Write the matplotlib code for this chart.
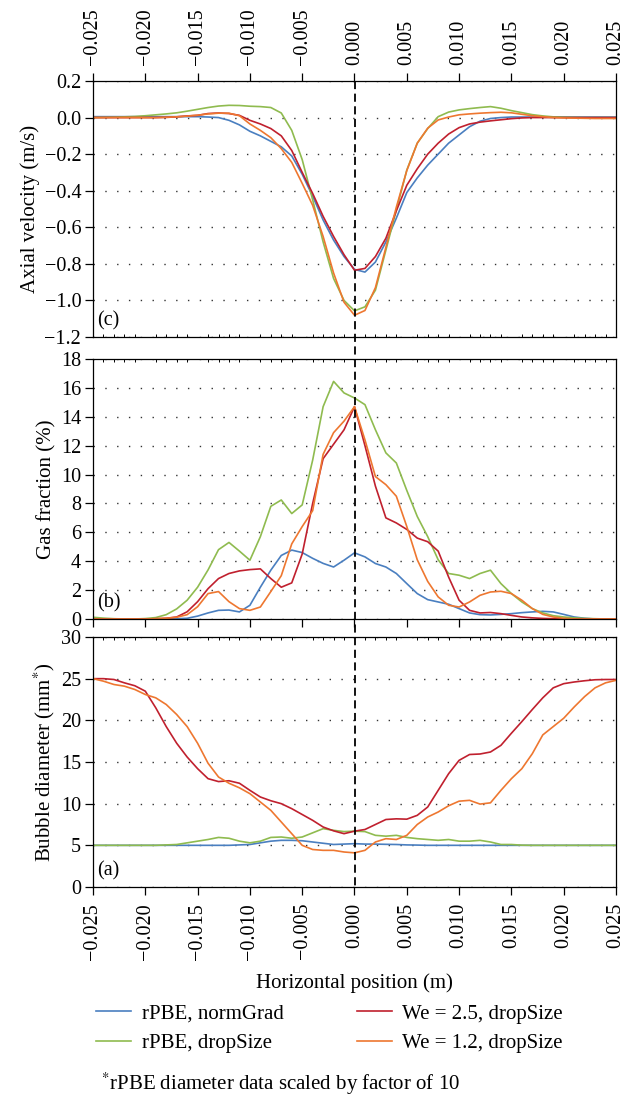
import numpy as np
import matplotlib
matplotlib.use("Agg")
import matplotlib.pyplot as plt
from matplotlib.ticker import MultipleLocator, FuncFormatter
from matplotlib.lines import Line2D

plt.rcParams['font.family'] = ['Liberation Serif', 'DejaVu Serif']
plt.rcParams['mathtext.fontset'] = 'stix'

# horizontal position (m), one value every 1 mm
x = np.round(np.arange(-25, 26) * 0.001, 3)

labels = ["rPBE, normGrad", "rPBE, dropSize", "We = 2.5, dropSize", "We = 1.2, dropSize"]
colors = ["#4a7fc0", "#8fbb4f", "#c0202e", "#ee7730"]

# (c) axial velocity (m/s)
blue_c = [0.005, 0.005, 0.005, 0.005, 0.005, 0.005, 0.005, 0.005, 0.005, 0.005,
          0.005, 0.003, 0.0, -0.015, -0.04, -0.075, -0.10, -0.13, -0.16, -0.21,
          -0.31, -0.43, -0.56, -0.67, -0.76, -0.83, -0.845, -0.79, -0.68, -0.55,
          -0.41, -0.33, -0.26, -0.20, -0.14, -0.095, -0.05, -0.02, -0.005, 0.0,
          0.003, 0.003, 0.003, 0.003, 0.003, 0.003, 0.003, 0.003, 0.003, 0.003, 0.003]
green_c = [0.0, 0.001, 0.002, 0.004, 0.006, 0.01, 0.015, 0.02, 0.026, 0.035,
           0.045, 0.055, 0.063, 0.067, 0.066, 0.062, 0.06, 0.055, 0.025, -0.07,
           -0.23, -0.45, -0.68, -0.88, -1.00, -1.057, -1.035, -0.944, -0.725, -0.506,
           -0.287, -0.14, -0.06, 0.005, 0.03, 0.042, 0.049, 0.055, 0.06, 0.051,
           0.038, 0.027, 0.016, 0.009, 0.004, 0.002, 0.001, 0.0, 0.0, 0.0, 0.0]
red_c = [0.0, 0.0, 0.0, 0.0, 0.0, 0.0, 0.0, 0.001, 0.004, 0.009,
         0.012, 0.022, 0.025, 0.022, 0.012, -0.015, -0.035, -0.06, -0.10, -0.18,
         -0.30, -0.415, -0.54, -0.65, -0.75, -0.835, -0.825, -0.76, -0.66, -0.51,
         -0.37, -0.28, -0.20, -0.14, -0.09, -0.055, -0.035, -0.025, -0.018, -0.012,
         -0.006, -0.002, 0.0, 0.0, 0.0, 0.0, 0.0, 0.0, 0.0, 0.0, 0.0]
orange_c = [0.0, 0.0, 0.0, 0.0, 0.0, 0.0, 0.0, 0.002, 0.004, 0.008,
            0.013, 0.02, 0.024, 0.024, 0.01, -0.035, -0.07, -0.11, -0.17, -0.245,
            -0.36, -0.48, -0.65, -0.85, -1.01, -1.081, -1.055, -0.93, -0.71, -0.49,
            -0.29, -0.14, -0.058, -0.013, 0.003, 0.015, 0.02, 0.024, 0.027, 0.029,
            0.026, 0.018, 0.01, 0.005, 0.0, -0.002, -0.003, -0.004, -0.005, -0.005, -0.005]

# (b) gas fraction (%)
blue_b = [0.0, 0.0, 0.0, 0.0, 0.0, 0.0, 0.0, 0.0, 0.02, 0.05,
          0.2, 0.42, 0.6, 0.62, 0.49, 0.95, 2.2, 3.38, 4.4, 4.77,
          4.6, 4.2, 3.85, 3.6, 4.07, 4.58, 4.3, 3.84, 3.6, 3.15,
          2.45, 1.76, 1.34, 1.18, 1.02, 0.72, 0.42, 0.3, 0.28, 0.32,
          0.37, 0.44, 0.49, 0.53, 0.49, 0.32, 0.14, 0.05, 0.0, 0.0, 0.0]
green_b = [0.12, 0.06, 0.02, 0.0, 0.0, 0.03, 0.1, 0.3, 0.7, 1.3,
           2.2, 3.4, 4.8, 5.3, 4.7, 4.07, 5.7, 7.8, 8.24, 7.3,
           7.9, 11.0, 14.7, 16.45, 15.65, 15.3, 14.84, 13.1, 11.5, 10.8,
           8.9, 7.1, 5.7, 4.1, 3.15, 3.03, 2.8, 3.15, 3.38, 2.45,
           1.76, 1.18, 0.72, 0.42, 0.23, 0.14, 0.08, 0.04, 0.02, 0.0, 0.0]
red_b = [0.0, 0.0, 0.0, 0.0, 0.0, 0.0, 0.02, 0.05, 0.14, 0.5,
         1.2, 2.1, 2.8, 3.15, 3.33, 3.42, 3.47, 2.8, 2.2, 2.5,
         4.5, 8.0, 11.1, 12.1, 13.1, 14.7, 12.0, 9.2, 7.0, 6.65,
         6.2, 5.6, 5.35, 4.7, 2.9, 1.3, 0.6, 0.42, 0.45, 0.37,
         0.25, 0.14, 0.08, 0.04, 0.02, 0.0, 0.0, 0.0, 0.0, 0.0, 0.0]
orange_b = [0.0, 0.0, 0.0, 0.0, 0.0, 0.0, 0.02, 0.05, 0.12, 0.3,
            0.85, 1.76, 1.9, 1.2, 0.72, 0.6, 0.83, 1.9, 3.0, 5.2,
            6.4, 7.5, 11.4, 12.9, 13.7, 14.7, 12.4, 9.86, 9.3, 8.5,
            6.4, 4.1, 2.6, 1.53, 0.95, 0.83, 1.18, 1.64, 1.87, 1.92,
            1.76, 1.3, 0.72, 0.32, 0.14, 0.05, 0.0, 0.0, 0.0, 0.0, 0.0]

# (a) bubble diameter (mm, rPBE x10)
blue_a = [5.0, 5.0, 5.0, 5.0, 5.0, 5.0, 5.0, 5.0, 5.0, 5.0,
          5.0, 5.0, 5.0, 5.0, 5.05, 5.1, 5.3, 5.5, 5.6, 5.6,
          5.55, 5.4, 5.25, 5.1, 5.15, 5.2, 5.15, 5.15, 5.12, 5.1,
          5.05, 5.03, 5.0, 5.0, 5.0, 5.0, 5.0, 5.0, 5.0, 5.0,
          5.0, 5.0, 5.0, 5.0, 5.0, 5.0, 5.0, 5.0, 5.0, 5.0, 5.0]
green_a = [5.0, 5.0, 5.0, 5.0, 5.0, 5.0, 5.0, 5.05, 5.1, 5.3,
           5.5, 5.7, 5.95, 5.85, 5.5, 5.3, 5.5, 5.95, 6.0, 5.85,
           6.0, 6.5, 7.0, 6.8, 6.65, 6.7, 6.65, 6.2, 6.1, 6.2,
           5.95, 5.8, 5.7, 5.6, 5.7, 5.5, 5.5, 5.6, 5.4, 5.1,
           5.1, 5.02, 5.0, 5.0, 5.0, 5.0, 5.0, 5.0, 5.0, 5.0, 5.0]
red_a = [25.0, 25.0, 24.9, 24.5, 24.15, 23.5, 21.5, 19.25, 17.25, 15.6,
         14.2, 13.0, 12.65, 12.75, 12.45, 11.6, 10.8, 10.35, 10.0, 9.4,
         8.7, 8.0, 7.2, 6.74, 6.4, 6.7, 6.9, 7.5, 8.1, 8.18,
         8.14, 8.6, 9.6, 11.6, 13.6, 15.2, 15.9, 15.96, 16.2, 17.0,
         18.45, 19.85, 21.3, 22.7, 23.9, 24.4, 24.6, 24.75, 24.87, 24.9, 24.9]
orange_a = [25.0, 24.7, 24.3, 24.1, 23.7, 23.1, 22.7, 21.9, 20.7, 19.25,
            17.25, 14.85, 13.2, 12.45, 11.9, 11.2, 10.2, 9.2, 7.8, 6.4,
            5.0, 4.5, 4.4, 4.4, 4.2, 4.1, 4.4, 5.4, 5.8, 5.7,
            6.2, 7.5, 8.4, 9.0, 9.75, 10.3, 10.4, 9.95, 10.1, 11.6,
            13.0, 14.2, 16.0, 18.25, 19.25, 20.25, 21.6, 22.85, 23.9, 24.5, 24.8]

W, H = 623, 1098
fig = plt.figure(figsize=(W / 100, H / 100), dpi=100)


def box(top, bottom):
    return [93 / W, 1 - bottom / H, 523 / W, (bottom - top) / H]


def fmt_func(nd):
    def f(v, pos):
        s = "%.*f" % (nd, v)
        if float(s) == 0:
            s = s.lstrip("-")
        return s.replace("-", "\u2212")
    return FuncFormatter(f)


ax_c = fig.add_axes(box(81, 337))
ax_b = fig.add_axes(box(359, 619))
ax_a = fig.add_axes(box(637, 887))

panels = [
    (ax_c, [blue_c, green_c, red_c, orange_c], (-1.2, 0.2), 0.2, 1, "Axial velocity (m/s)", "(c)"),
    (ax_b, [blue_b, green_b, red_b, orange_b], (0, 18), 2, 0, "Gas fraction (%)", "(b)"),
    (ax_a, [blue_a, green_a, red_a, orange_a], (0, 30), 5, 0, "Bubble diameter (mm$^{*}$)", "(a)"),
]

for ax, series, ylim, ystep, nd, ylabel, tag in panels:
    for vals, c, lab in zip(series, colors, labels):
        ax.plot(x, vals, color=c, lw=1.2, label=lab)
    ax.set_xlim(-0.025, 0.025)
    ax.set_ylim(*ylim)
    ax.xaxis.set_major_locator(MultipleLocator(0.005))
    ax.xaxis.set_minor_locator(MultipleLocator(0.001))
    ax.xaxis.set_major_formatter(fmt_func(3))
    ax.yaxis.set_major_locator(MultipleLocator(ystep))
    ax.yaxis.set_major_formatter(fmt_func(nd))
    ax.grid(axis='y', color='#333333', lw=1.0, linestyle=(0, (1, 7.5)))
    ax.tick_params(axis='y', which='major', direction='out', length=5.5, width=0.9,
                   labelsize=14.5, right=False, pad=3)
    ax.set_ylabel(ylabel, fontsize=15, labelpad=3)
    ax.text(0.008, 0.025, tag, transform=ax.transAxes, fontsize=14.5, va='bottom', ha='left')
    for s in ax.spines.values():
        s.set_linewidth(0.9)

# top panel: labelled ticks on top, small inner ticks at the bottom
ax_c.tick_params(axis='x', which='major', top=True, bottom=False, labeltop=True,
                 labelbottom=False, direction='out', length=5.5, width=0.9,
                 labelsize=14.5, labelrotation=90, pad=6)
ax_c.tick_params(axis='x', which='minor', top=False, bottom=True, direction='in', length=2.5, width=0.7)

ax_b.tick_params(axis='x', which='major', top=False, bottom=True, labelbottom=False,
                 direction='out', length=5.5, width=0.9)
ax_b.tick_params(axis='x', which='minor', top=True, bottom=False, direction='in', length=2.5, width=0.7)

ax_a.tick_params(axis='x', which='major', top=False, bottom=True, labelbottom=True,
                 direction='out', length=5.5, width=0.9, labelsize=14.5, labelrotation=90, pad=6)
ax_a.tick_params(axis='x', which='minor', top=True, bottom=False, direction='in', length=2.5, width=0.7)
ax_a.set_xlabel("Horizontal position (m)", fontsize=15, labelpad=10)

# dashed centre line through all three panels
x0 = (93 + 523 / 2) / W
fig.add_artist(Line2D([x0, x0], [1 - 81 / H, 1 - 887 / H], transform=fig.transFigure,
                      color='k', lw=1.3, linestyle=(0, (4.5, 2.5)), zorder=5))

handles, labs = ax_c.get_legend_handles_labels()
fig.legend(handles, labs, ncol=2, loc='upper left', bbox_to_anchor=(96 / W, 1 - 1004 / H),
           frameon=False, fontsize=15, handlelength=1.7, handletextpad=0.5,
           columnspacing=3.5, labelspacing=0.48, borderpad=0, borderaxespad=0)

fig.text(101 / W, 1 - 1084 / H, "$^{*}$rPBE diameter data scaled by factor of 10",
         fontsize=15, va='center', ha='left')

fig.savefig("out.png", dpi=100)
